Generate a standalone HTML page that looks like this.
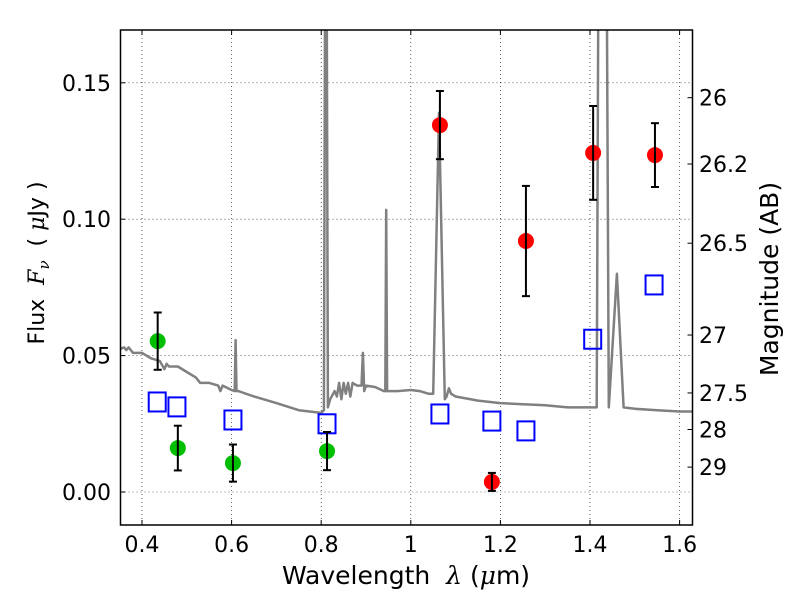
<!DOCTYPE html>
<html><head><meta charset="utf-8"><style>
html,body{margin:0;padding:0;background:#fff;}
svg text{font-family:"DejaVu Sans","Liberation Sans",sans-serif;white-space:pre;}
</style></head><body>
<svg id="chart" width="800" height="600" xmlns="http://www.w3.org/2000/svg">
<defs><clipPath id="clip"><rect x="120.5" y="30" width="572" height="495"/></clipPath></defs>
<g id="grid"></g>
<g id="spec" clip-path="url(#clip)"></g>
<g id="marks" clip-path="url(#clip)"></g>
<rect x="120.5" y="30" width="572" height="495" fill="none" stroke="#000" stroke-width="1.5"/>
<g id="axes"></g>
<text x="406" y="584" font-size="25" text-anchor="middle" xml:space="preserve">Wavelength  <tspan font-family="DejaVu Serif" font-style="italic">λ</tspan> (<tspan font-family="DejaVu Serif" font-style="italic">μ</tspan>m)</text>
<text transform="translate(44,263) rotate(-90)" font-size="22" text-anchor="middle" xml:space="preserve">Flux  <tspan font-family="DejaVu Serif" font-style="italic">F</tspan><tspan font-family="DejaVu Serif" font-style="italic" font-size="15" dy="5">ν</tspan><tspan dy="-5">  ( </tspan><tspan font-family="DejaVu Serif" font-style="italic">μ</tspan>Jy )</text>
<text transform="translate(778,279) rotate(-90)" font-size="25" text-anchor="middle">Magnitude (AB)</text>
</svg>
<script>
const xTicks=[0.4,0.6,0.8,1.0,1.2,1.4,1.6];
const xTickLabels=["0.4","0.6","0.8","1","1.2","1.4","1.6"];
const yTicks=[0,0.05,0.10,0.15];
const yTickLabels=["0.00","0.05","0.10","0.15"];
const magTicks=[26,26.2,26.5,27,27.5,28,29];
const magTickLabels=["26","26.2","26.5","27","27.5","28","29"];
const specLam=[0.35,0.36,0.365,0.37,0.38,0.40,0.42,0.44,0.45,0.455,0.46,0.48,0.50,0.52,0.525,0.53,0.55,0.57,0.575,0.58,0.60,0.607,0.609,0.611,0.615,0.65,0.70,0.75,0.80,0.806,0.809,0.812,0.815,0.82,0.83,0.835,0.84,0.845,0.85,0.855,0.86,0.865,0.87,0.88,0.89,0.893,0.896,0.90,0.92,0.94,0.943,0.945,0.947,0.95,0.97,1.0,1.02,1.04,1.05,1.063,1.076,1.08,1.085,1.09,1.1,1.15,1.2,1.25,1.3,1.35,1.4,1.415,1.419,1.437,1.442,1.46,1.475,1.5,1.55,1.6,1.64];
const specFlux=[0.0524,0.053,0.052,0.053,0.051,0.051,0.049,0.048,0.045,0.047,0.046,0.046,0.044,0.042,0.041,0.040,0.040,0.039,0.037,0.039,0.0374,0.037,0.0557,0.037,0.037,0.035,0.0326,0.030,0.029,0.030,0.2,0.2,0.031,0.034,0.037,0.035,0.040,0.034,0.040,0.036,0.040,0.035,0.040,0.039,0.039,0.051,0.037,0.039,0.0385,0.037,0.037,0.1034,0.037,0.037,0.037,0.0374,0.037,0.036,0.036,0.139,0.034,0.035,0.038,0.036,0.035,0.0335,0.0326,0.0322,0.0318,0.031,0.031,0.031,0.2,0.2,0.031,0.080,0.031,0.0305,0.030,0.0295,0.0295];
const greenLam=[0.435,0.480,0.603,0.813];
const greenFlux=[0.0553,0.0161,0.0106,0.0150];
const greenErr=[0.0105,0.0082,0.0068,0.0070];
const redLam=[1.065,1.181,1.257,1.407,1.545];
const redFlux=[0.1345,0.0037,0.0920,0.1243,0.1235];
const redErr=[0.0125,0.0033,0.0202,0.0172,0.0117];
const blueLam=[0.434,0.478,0.603,0.813,1.065,1.181,1.257,1.406,1.543];
const blueFlux=[0.0330,0.0312,0.0264,0.0250,0.0286,0.0260,0.0224,0.0560,0.0759];

const X=v=>142+(v-0.4)*448;
const Y=v=>492-v*2728;
const NS='http://www.w3.org/2000/svg';
function mk(tag,attrs,parent){const e=document.createElementNS(NS,tag);for(const k in attrs)e.setAttribute(k,attrs[k]);parent.appendChild(e);return e;}
const grid=document.getElementById('grid'),axes=document.getElementById('axes'),spec=document.getElementById('spec'),marks=document.getElementById('marks');
xTicks.forEach((t,i)=>{
  const g=mk('line',{x1:X(t),x2:X(t),y1:30,y2:525,stroke:'#000','stroke-width':0.6,'stroke-dasharray':'1,3'},grid);
  
  
  const tk=mk('line',{x1:X(t),x2:X(t),y1:525,y2:520,stroke:'#000','stroke-width':1},axes);
  
  
  const tk2=mk('line',{x1:X(t),x2:X(t),y1:30,y2:35,stroke:'#000','stroke-width':1},axes);
  
  
  const l=mk('text',{x:X(t),y:552,'font-size':22,'text-anchor':'middle'},axes);l.textContent=xTickLabels[i];
  
  
});
yTicks.forEach((t,i)=>{
  const g=mk('line',{x1:120.5,x2:692.5,y1:Y(t),y2:Y(t),stroke:'#000','stroke-width':0.6,'stroke-dasharray':'1,3'},grid);
  
  
  const tk=mk('line',{x1:120.5,x2:125.5,y1:Y(t),y2:Y(t),stroke:'#000','stroke-width':1},axes);
  
  
  const l=mk('text',{x:111,y:Y(t)+8,'font-size':22,'text-anchor':'end'},axes);l.textContent=yTickLabels[i];
  
  
});
magTicks.forEach((m,i)=>{
  const y=Y(Math.pow(10,(23.9-m)/2.5));
  const tk=mk('line',{x1:692.5,x2:687.5,y1:y,y2:y,stroke:'#000','stroke-width':1},axes);
  
  
  const l=mk('text',{x:699,y:y+8,'font-size':22},axes);l.textContent=magTickLabels[i];
  
  
});
const sp=mk('polyline',{points:specLam.map((l,i)=>X(l).toFixed(1)+','+Y(specFlux[i]).toFixed(1)).join(' '),fill:'none',stroke:'#808080','stroke-width':2.5,'stroke-linejoin':'round'},spec);


function errbar(x,f,e){
  const a=mk('line',{x1:x,x2:x,y1:Y(f+e),y2:Y(f-e),stroke:'#000','stroke-width':2},marks);
  
  
  [f+e,f-e].forEach(v=>{const c=mk('line',{x1:x-4,x2:x+4,y1:Y(v),y2:Y(v),stroke:'#000','stroke-width':2},marks);
    
    });
}
blueLam.forEach((l,i)=>{
  const r=mk('rect',{x:X(l)-8.5,y:Y(blueFlux[i])-9.5,width:17,height:19,fill:'none',stroke:'#0000ff','stroke-width':2},marks);
  
  
});
greenLam.forEach((l,i)=>{
  const c=mk('circle',{cx:X(l),cy:Y(greenFlux[i]),r:8,fill:'#00bf00'},marks);
  
  
  errbar(X(l),greenFlux[i],greenErr[i]);
});
redLam.forEach((l,i)=>{
  const c=mk('circle',{cx:X(l),cy:Y(redFlux[i]),r:8,fill:'#ff0000'},marks);
  
  
  errbar(X(l),redFlux[i],redErr[i]);
});
</script>
</body></html>
